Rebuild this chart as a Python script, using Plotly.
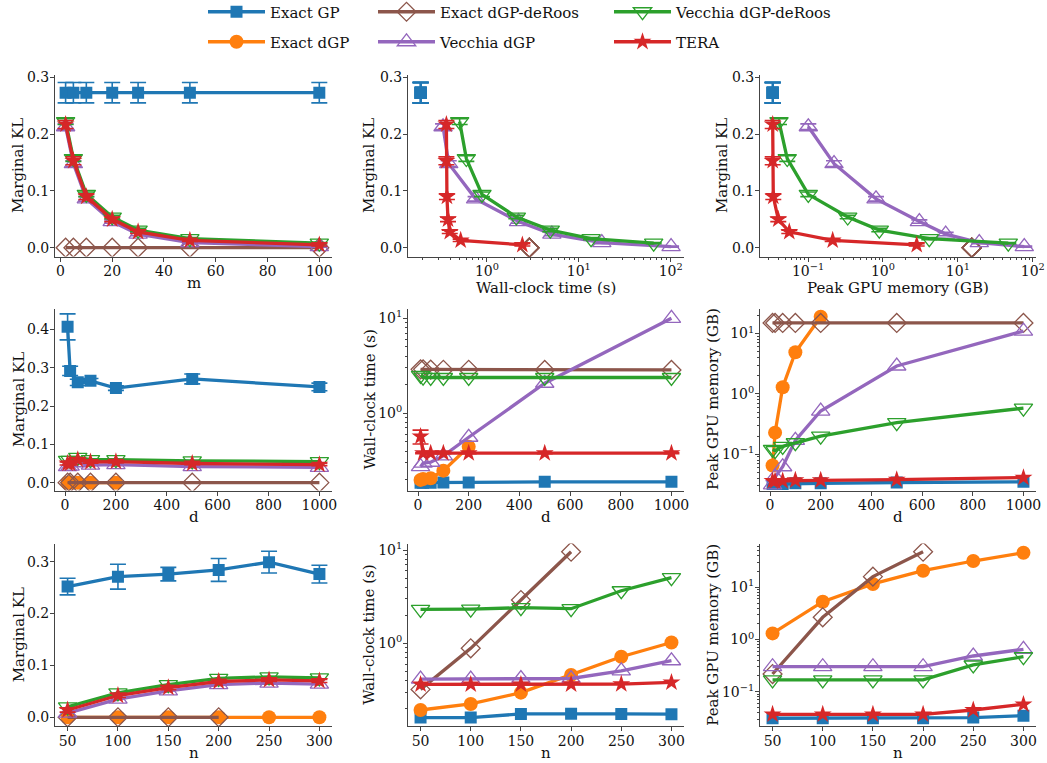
import plotly.graph_objects as go

FONT = "DejaVu Serif"
W, H = 1047, 763

# ---------------- data ----------------
methods = ["Exact GP", "Exact dGP", "Exact dGP-deRoos", "Vecchia dGP", "Vecchia dGP-deRoos", "TERA"]
colors = ["#1f77b4", "#ff7f0e", "#8c564b", "#9467bd", "#2ca02c", "#d62728"]

m_vals = [2, 5, 10, 20, 30, 50, 100]
d_vals = [10, 20, 50, 100, 200, 500, 1000]
d_vals_dgp = [10, 20, 50, 100, 200]
n_vals = [50, 100, 150, 200, 250, 300]
n_vals_deroos = [50, 100, 150, 200]

# Row 1: varying m
kl_m_gp = [0.273, 0.273, 0.273, 0.273, 0.273, 0.273, 0.273]
kl_m_gp_err = [0.018, 0.018, 0.018, 0.018, 0.018, 0.018, 0.018]
kl_m_deroos = [0.0, 0.0, 0.0, 0.0, 0.0, 0.0, 0.0]
kl_m_vdgp = [0.213, 0.148, 0.086, 0.046, 0.024, 0.009, 0.002]
kl_m_vdgp_err = [0.005, 0.005, 0.004, 0.003, 0.003, 0.002, 0.001]
kl_m_vderoos = [0.222, 0.157, 0.094, 0.054, 0.031, 0.016, 0.008]
kl_m_vderoos_err = [0.005, 0.005, 0.004, 0.003, 0.003, 0.002, 0.001]
kl_m_tera = [0.217, 0.153, 0.090, 0.050, 0.028, 0.013, 0.005]
kl_m_tera_err = [0.007, 0.007, 0.005, 0.004, 0.003, 0.002, 0.002]

time_m_gp = [0.19, 0.19, 0.19, 0.19, 0.19, 0.19, 0.19]
time_m_deroos = [2.9, 2.9, 2.9, 2.9, 2.9, 2.9, 2.9]
time_m_vdgp = [0.333, 0.384, 0.753, 2.21, 5.09, 17.8, 101.0]
time_m_vderoos = [0.505, 0.597, 0.883, 2.09, 4.89, 13.6, 65.3]
time_m_tera = [0.362, 0.362, 0.367, 0.377, 0.394, 0.518, 2.43]

mem_m_gp = [0.0337, 0.0337, 0.0337, 0.0337, 0.0337, 0.0337, 0.0337]
mem_m_deroos = [15.3, 15.3, 15.3, 15.3, 15.3, 15.3, 15.3]
mem_m_vdgp = [0.1007, 0.222, 0.807, 3.06, 6.87, 19.3, 77.0]
mem_m_vderoos = [0.0409, 0.0527, 0.1007, 0.338, 0.893, 4.15, 47.1]
mem_m_tera = [0.0337, 0.0337, 0.0343, 0.040, 0.0561, 0.213, 2.82]

# Row 2: varying d
kl_d_gp = [0.407, 0.292, 0.262, 0.266, 0.247, 0.271, 0.250]
kl_d_gp_err = [0.034, 0.012, 0.008, 0.006, 0.006, 0.013, 0.010]
kl_d_dgp = [0.0, 0.0, 0.0, 0.0, 0.0]
kl_d_deroos = [0.0, 0.0, 0.0, 0.0, 0.0, 0.0, 0.0]
kl_d_vdgp = [0.042, 0.043, 0.052, 0.046, 0.047, 0.042, 0.040]
kl_d_vderoos = [0.058, 0.058, 0.066, 0.060, 0.060, 0.057, 0.055]
kl_d_tera = [0.050, 0.050, 0.060, 0.054, 0.055, 0.050, 0.047]
kl_d_tera_err = [0.004, 0.004, 0.004, 0.003, 0.003, 0.003, 0.003]

time_d_gp = [0.186, 0.186, 0.186, 0.187, 0.187, 0.190, 0.190]
time_d_dgp = [0.199, 0.203, 0.207, 0.249, 0.445]
time_d_deroos = [2.9, 2.9, 2.88, 2.87, 2.87, 2.86, 2.86]
time_d_vdgp = [0.274, 0.298, 0.305, 0.356, 0.559, 2.07, 10.0]
time_d_vderoos = [2.5, 2.4, 2.38, 2.38, 2.38, 2.38, 2.38]
time_d_tera = [0.57, 0.38, 0.38, 0.38, 0.38, 0.38, 0.38]
time_d_tera_err = [0.095, 0.005, 0.005, 0.005, 0.005, 0.005, 0.005]

mem_d_gp = [0.032, 0.032, 0.032, 0.033, 0.033, 0.034, 0.035]
mem_d_dgp = [0.065, 0.228, 1.29, 4.89, 19.0]
mem_d_deroos = [15.0, 15.0, 15.0, 15.0, 15.0, 15.0, 15.0]
mem_d_vdgp = [0.031, 0.042, 0.062, 0.17, 0.52, 2.9, 11.0]
mem_d_vderoos = [0.12, 0.115, 0.135, 0.155, 0.2, 0.333, 0.58]
mem_d_tera = [0.036, 0.036, 0.036, 0.037, 0.037, 0.038, 0.041]

# Row 3: varying n
kl_n_gp = [0.252, 0.271, 0.276, 0.284, 0.299, 0.276]
kl_n_gp_err = [0.016, 0.024, 0.013, 0.022, 0.021, 0.017]
kl_n_dgp = [0.0, 0.0, 0.0, 0.0, 0.0, 0.0]
kl_n_deroos = [0.0, 0.0, 0.0, 0.0]
kl_n_vdgp = [0.008, 0.035, 0.051, 0.063, 0.066, 0.064]
kl_n_vderoos = [0.020, 0.047, 0.063, 0.075, 0.078, 0.076]
kl_n_tera = [0.014, 0.042, 0.057, 0.069, 0.072, 0.070]
kl_n_tera_err = [0.004, 0.004, 0.004, 0.003, 0.003, 0.003]

time_n_gp = [0.160, 0.160, 0.175, 0.176, 0.175, 0.174]
time_n_dgp = [0.193, 0.224, 0.296, 0.457, 0.719, 1.02]
time_n_deroos = [0.321, 0.884, 2.91, 9.6]
time_n_vdgp = [0.414, 0.414, 0.420, 0.420, 0.508, 0.651]
time_n_vderoos = [2.31, 2.33, 2.41, 2.35, 3.66, 5.05]
time_n_tera = [0.363, 0.363, 0.363, 0.364, 0.366, 0.382]

mem_n_gp = [0.031, 0.031, 0.031, 0.031, 0.032, 0.0347]
mem_n_dgp = [1.31, 5.3, 11.6, 20.8, 31.9, 46.0]
mem_n_deroos = [0.218, 2.66, 16.0, 48.0]
mem_n_vdgp = [0.301, 0.301, 0.301, 0.301, 0.483, 0.649]
mem_n_vderoos = [0.168, 0.168, 0.168, 0.168, 0.325, 0.469]
mem_n_tera = [0.0369, 0.0369, 0.0369, 0.0369, 0.0446, 0.0573]

# ---------------- styles ----------------
style = {
    "Exact GP": dict(symbol="square", size=12, lw=0),
    "Exact dGP": dict(symbol="circle", size=14, lw=0),
    "Exact dGP-deRoos": dict(symbol="diamond-open", size=14.5, lw=1.3),
    "Vecchia dGP": dict(symbol="triangle-up-open", size=16, lw=1.3),
    "Vecchia dGP-deRoos": dict(symbol="triangle-down-open", size=16, lw=1.3),
    "TERA": dict(symbol="star", size=13.5, lw=0),
}
color_of = dict(zip(methods, colors))
legend_of = {m: ("legend" if i == 0 else f"legend{i+1}") for i, m in enumerate(methods)}

fig = go.Figure()
shown = set()


def add(method, x, y, ax, err=None):
    c = color_of[method]
    st = style[method]
    show = method not in shown
    shown.add(method)
    kw = {}
    if err is not None:
        kw["error_y"] = dict(type="data", array=err, visible=True, color=c, thickness=1.6, width=8)
    fig.add_trace(go.Scatter(
        x=x, y=y, mode="lines+markers", name=method,
        line=dict(color=c, width=3.3),
        marker=dict(symbol=st["symbol"], size=st["size"], color=c,
                    line=dict(color=c, width=st["lw"])),
        xaxis="x" + ("" if ax == 1 else str(ax)),
        yaxis="y" + ("" if ax == 1 else str(ax)),
        showlegend=show, legend=legend_of[method], **kw))


# Row 1
add("Exact GP", m_vals, kl_m_gp, 1, kl_m_gp_err)
add("Exact dGP-deRoos", m_vals, kl_m_deroos, 1)
add("Vecchia dGP", m_vals, kl_m_vdgp, 1, kl_m_vdgp_err)
add("Vecchia dGP-deRoos", m_vals, kl_m_vderoos, 1, kl_m_vderoos_err)
add("TERA", m_vals, kl_m_tera, 1, kl_m_tera_err)

add("Exact GP", time_m_gp, kl_m_gp, 2, kl_m_gp_err)
add("Exact dGP-deRoos", time_m_deroos, kl_m_deroos, 2)
add("Vecchia dGP", time_m_vdgp, kl_m_vdgp, 2, kl_m_vdgp_err)
add("Vecchia dGP-deRoos", time_m_vderoos, kl_m_vderoos, 2, kl_m_vderoos_err)
add("TERA", time_m_tera, kl_m_tera, 2, kl_m_tera_err)

add("Exact GP", mem_m_gp, kl_m_gp, 3, kl_m_gp_err)
add("Exact dGP-deRoos", mem_m_deroos, kl_m_deroos, 3)
add("Vecchia dGP", mem_m_vdgp, kl_m_vdgp, 3, kl_m_vdgp_err)
add("Vecchia dGP-deRoos", mem_m_vderoos, kl_m_vderoos, 3, kl_m_vderoos_err)
add("TERA", mem_m_tera, kl_m_tera, 3, kl_m_tera_err)

# Row 2
add("Exact GP", d_vals, kl_d_gp, 4, kl_d_gp_err)
add("Exact dGP", d_vals_dgp, kl_d_dgp, 4)
add("Exact dGP-deRoos", d_vals, kl_d_deroos, 4)
add("Vecchia dGP", d_vals, kl_d_vdgp, 4)
add("Vecchia dGP-deRoos", d_vals, kl_d_vderoos, 4)
add("TERA", d_vals, kl_d_tera, 4, kl_d_tera_err)

add("Exact GP", d_vals, time_d_gp, 5)
add("Exact dGP", d_vals_dgp, time_d_dgp, 5)
add("Exact dGP-deRoos", d_vals, time_d_deroos, 5)
add("Vecchia dGP", d_vals, time_d_vdgp, 5)
add("Vecchia dGP-deRoos", d_vals, time_d_vderoos, 5)
add("TERA", d_vals, time_d_tera, 5, time_d_tera_err)

add("Exact GP", d_vals, mem_d_gp, 6)
add("Exact dGP", d_vals_dgp, mem_d_dgp, 6)
add("Exact dGP-deRoos", d_vals, mem_d_deroos, 6)
add("Vecchia dGP", d_vals, mem_d_vdgp, 6)
add("Vecchia dGP-deRoos", d_vals, mem_d_vderoos, 6)
add("TERA", d_vals, mem_d_tera, 6)

# Row 3
add("Exact GP", n_vals, kl_n_gp, 7, kl_n_gp_err)
add("Exact dGP", n_vals, kl_n_dgp, 7)
add("Exact dGP-deRoos", n_vals_deroos, kl_n_deroos, 7)
add("Vecchia dGP", n_vals, kl_n_vdgp, 7)
add("Vecchia dGP-deRoos", n_vals, kl_n_vderoos, 7)
add("TERA", n_vals, kl_n_tera, 7, kl_n_tera_err)

add("Exact GP", n_vals, time_n_gp, 8)
add("Exact dGP", n_vals, time_n_dgp, 8)
add("Exact dGP-deRoos", n_vals_deroos, time_n_deroos, 8)
add("Vecchia dGP", n_vals, time_n_vdgp, 8)
add("Vecchia dGP-deRoos", n_vals, time_n_vderoos, 8)
add("TERA", n_vals, time_n_tera, 8)

add("Exact GP", n_vals, mem_n_gp, 9)
add("Exact dGP", n_vals, mem_n_dgp, 9)
add("Exact dGP-deRoos", n_vals_deroos, mem_n_deroos, 9)
add("Vecchia dGP", n_vals, mem_n_vdgp, 9)
add("Vecchia dGP-deRoos", n_vals, mem_n_vderoos, 9)
add("TERA", n_vals, mem_n_tera, 9)

# ---------------- axes ----------------
col_px = [(55, 332), (408, 684), (760, 1036)]
row_px = [(74.5, 256.5), (308.5, 490.5), (543.5, 726)]
ytitle_x = [[18.5, 369.5, 722.5], [18.5, 369, 712.5], [18.5, 369, 713]]

AX = "#444444"


def sup(e):
    return "10<sup>" + (("\u2212" + str(-e)) if e < 0 else str(e)) + "</sup>"


def log_ticks(lo, hi):
    vals, txt, minor = [], [], []
    for e in range(lo, hi + 1):
        vals.append(10.0 ** e)
        txt.append(sup(e))
    for e in range(lo - 1, hi + 1):
        for k in range(2, 10):
            minor.append(k * 10.0 ** e)
    return vals, txt, minor


def lin_ticks(vals, fmt):
    return vals, [fmt.format(v) for v in vals]


base = dict(showgrid=False, zeroline=False, showline=True, linecolor=AX, linewidth=1,
            ticks="outside", ticklen=4, tickwidth=1, tickcolor=AX,
            tickfont=dict(family=FONT, size=14, color="#111"), mirror=False)

axes_spec = {
    1: (("lin", [-2.1, 104.9], [0, 20, 40, 60, 80, 100], "{:d}", "m"),
        ("lin", [-0.0155, 0.305], [0.0, 0.1, 0.2, 0.3], "{:.1f}", "Marginal KL")),
    2: (("log", [-0.859, 2.145], (0, 2), None, "Wall-clock time (s)"),
        ("lin", [-0.0155, 0.305], [0.0, 0.1, 0.2, 0.3], "{:.1f}", "Marginal KL")),
    3: (("log", [-1.642, 2.043], (-1, 2), None, "Peak GPU memory (GB)"),
        ("lin", [-0.0155, 0.305], [0.0, 0.1, 0.2, 0.3], "{:.1f}", "Marginal KL")),
    4: (("lin", [-39.5, 1049.5], [0, 200, 400, 600, 800, 1000], "{:d}", "d"),
        ("lin", [-0.0205, 0.455], [0.0, 0.1, 0.2, 0.3, 0.4], "{:.1f}", "Marginal KL")),
    5: (("lin", [-39.5, 1049.5], [0, 200, 400, 600, 800, 1000], "{:d}", "d"),
        ("log", [-0.813, 1.103], (0, 1), None, "Wall-clock time (s)")),
    6: (("lin", [-39.5, 1049.5], [0, 200, 400, 600, 800, 1000], "{:d}", "d"),
        ("log", [-1.601, 1.415], (-1, 1), None, "Peak GPU memory (GB)")),
    7: (("lin", [37.5, 312.5], [50, 100, 150, 200, 250, 300], "{:d}", "n"),
        ("lin", [-0.0168, 0.335], [0.0, 0.1, 0.2, 0.3], "{:.1f}", "Marginal KL")),
    8: (("lin", [37.5, 312.5], [50, 100, 150, 200, 250, 300], "{:d}", "n"),
        ("log", [-0.886, 1.07], (0, 1), None, "Wall-clock time (s)")),
    9: (("lin", [37.5, 312.5], [50, 100, 150, 200, 250, 300], "{:d}", "n"),
        ("log", [-1.657, 1.839], (-1, 1), None, "Peak GPU memory (GB)")),
}


def make_axis(spec, domain, anchor, is_x):
    kind, rng, ticks, fmt, title = spec
    a = dict(base)
    a["domain"] = domain
    a["anchor"] = anchor
    a["range"] = rng
    a["ticklabelstandoff"] = -2
    if kind == "lin":
        v, t = lin_ticks(ticks, fmt)
        a.update(type="linear", tickvals=v, ticktext=t)
    else:
        v, t, mn = log_ticks(*ticks)
        a.update(type="log", tickvals=v, ticktext=t,
                 minor=dict(tickvals=mn, ticks="outside", ticklen=2.5, tickwidth=0.8,
                            tickcolor=AX, showgrid=False))
    return a


layout_axes = {}
annotations = []
for idx, (xs, ys) in axes_spec.items():
    r, c = (idx - 1) // 3, (idx - 1) % 3
    x0, x1 = col_px[c]
    yt, yb = row_px[r]
    xd = [x0 / W, x1 / W]
    yd = [1 - yb / H, 1 - yt / H]
    sfx = "" if idx == 1 else str(idx)
    layout_axes["xaxis" + sfx] = make_axis(xs, xd, "y" + sfx, True)
    layout_axes["yaxis" + sfx] = make_axis(ys, yd, "x" + sfx, False)
    # axis titles (log x-axes have taller tick labels, so their title sits lower)
    gap = 31.5 if xs[0] == "log" else 26.5
    annotations.append(dict(
        text=xs[4], xref="paper", yref="paper",
        x=(x0 + x1) / 2 / W, y=1 - (yb + gap) / H,
        xanchor="center", yanchor="middle", showarrow=False,
        font=dict(family=FONT, size=15, color="#111")))
    annotations.append(dict(
        text=ys[4], xref="paper", yref="paper", textangle=-90,
        x=ytitle_x[r][c] / W, y=1 - (yt + yb) / 2 / H,
        xanchor="center", yanchor="middle", showarrow=False,
        font=dict(family=FONT, size=15, color="#111")))

# ---------------- legends ----------------
legend_pos = {
    "Exact GP": (203, 12), "Exact dGP-deRoos": (373, 12), "Vecchia dGP-deRoos": (609, 12),
    "Exact dGP": (203, 42), "Vecchia dGP": (373, 42), "TERA": (609, 42),
}
legends = {}
for mth in methods:
    px, py = legend_pos[mth]
    legends[legend_of[mth]] = dict(
        x=px / W, y=1 - py / H, xanchor="left", yanchor="middle",
        font=dict(family=FONT, size=15, color="#111"), bgcolor="rgba(0,0,0,0)",
        borderwidth=0, itemwidth=57, orientation="v")

fig.update_layout(
    width=W, height=H, margin=dict(l=0, r=0, t=0, b=0, pad=0, autoexpand=False),
    paper_bgcolor="white", plot_bgcolor="white",
    font=dict(family=FONT, size=14, color="#111"),
    annotations=annotations,
    **layout_axes, **legends,
)

fig.write_html("out.html", config={"displayModeBar": False},
               post_script="document.body.style.margin='0';document.body.style.padding='0';")
